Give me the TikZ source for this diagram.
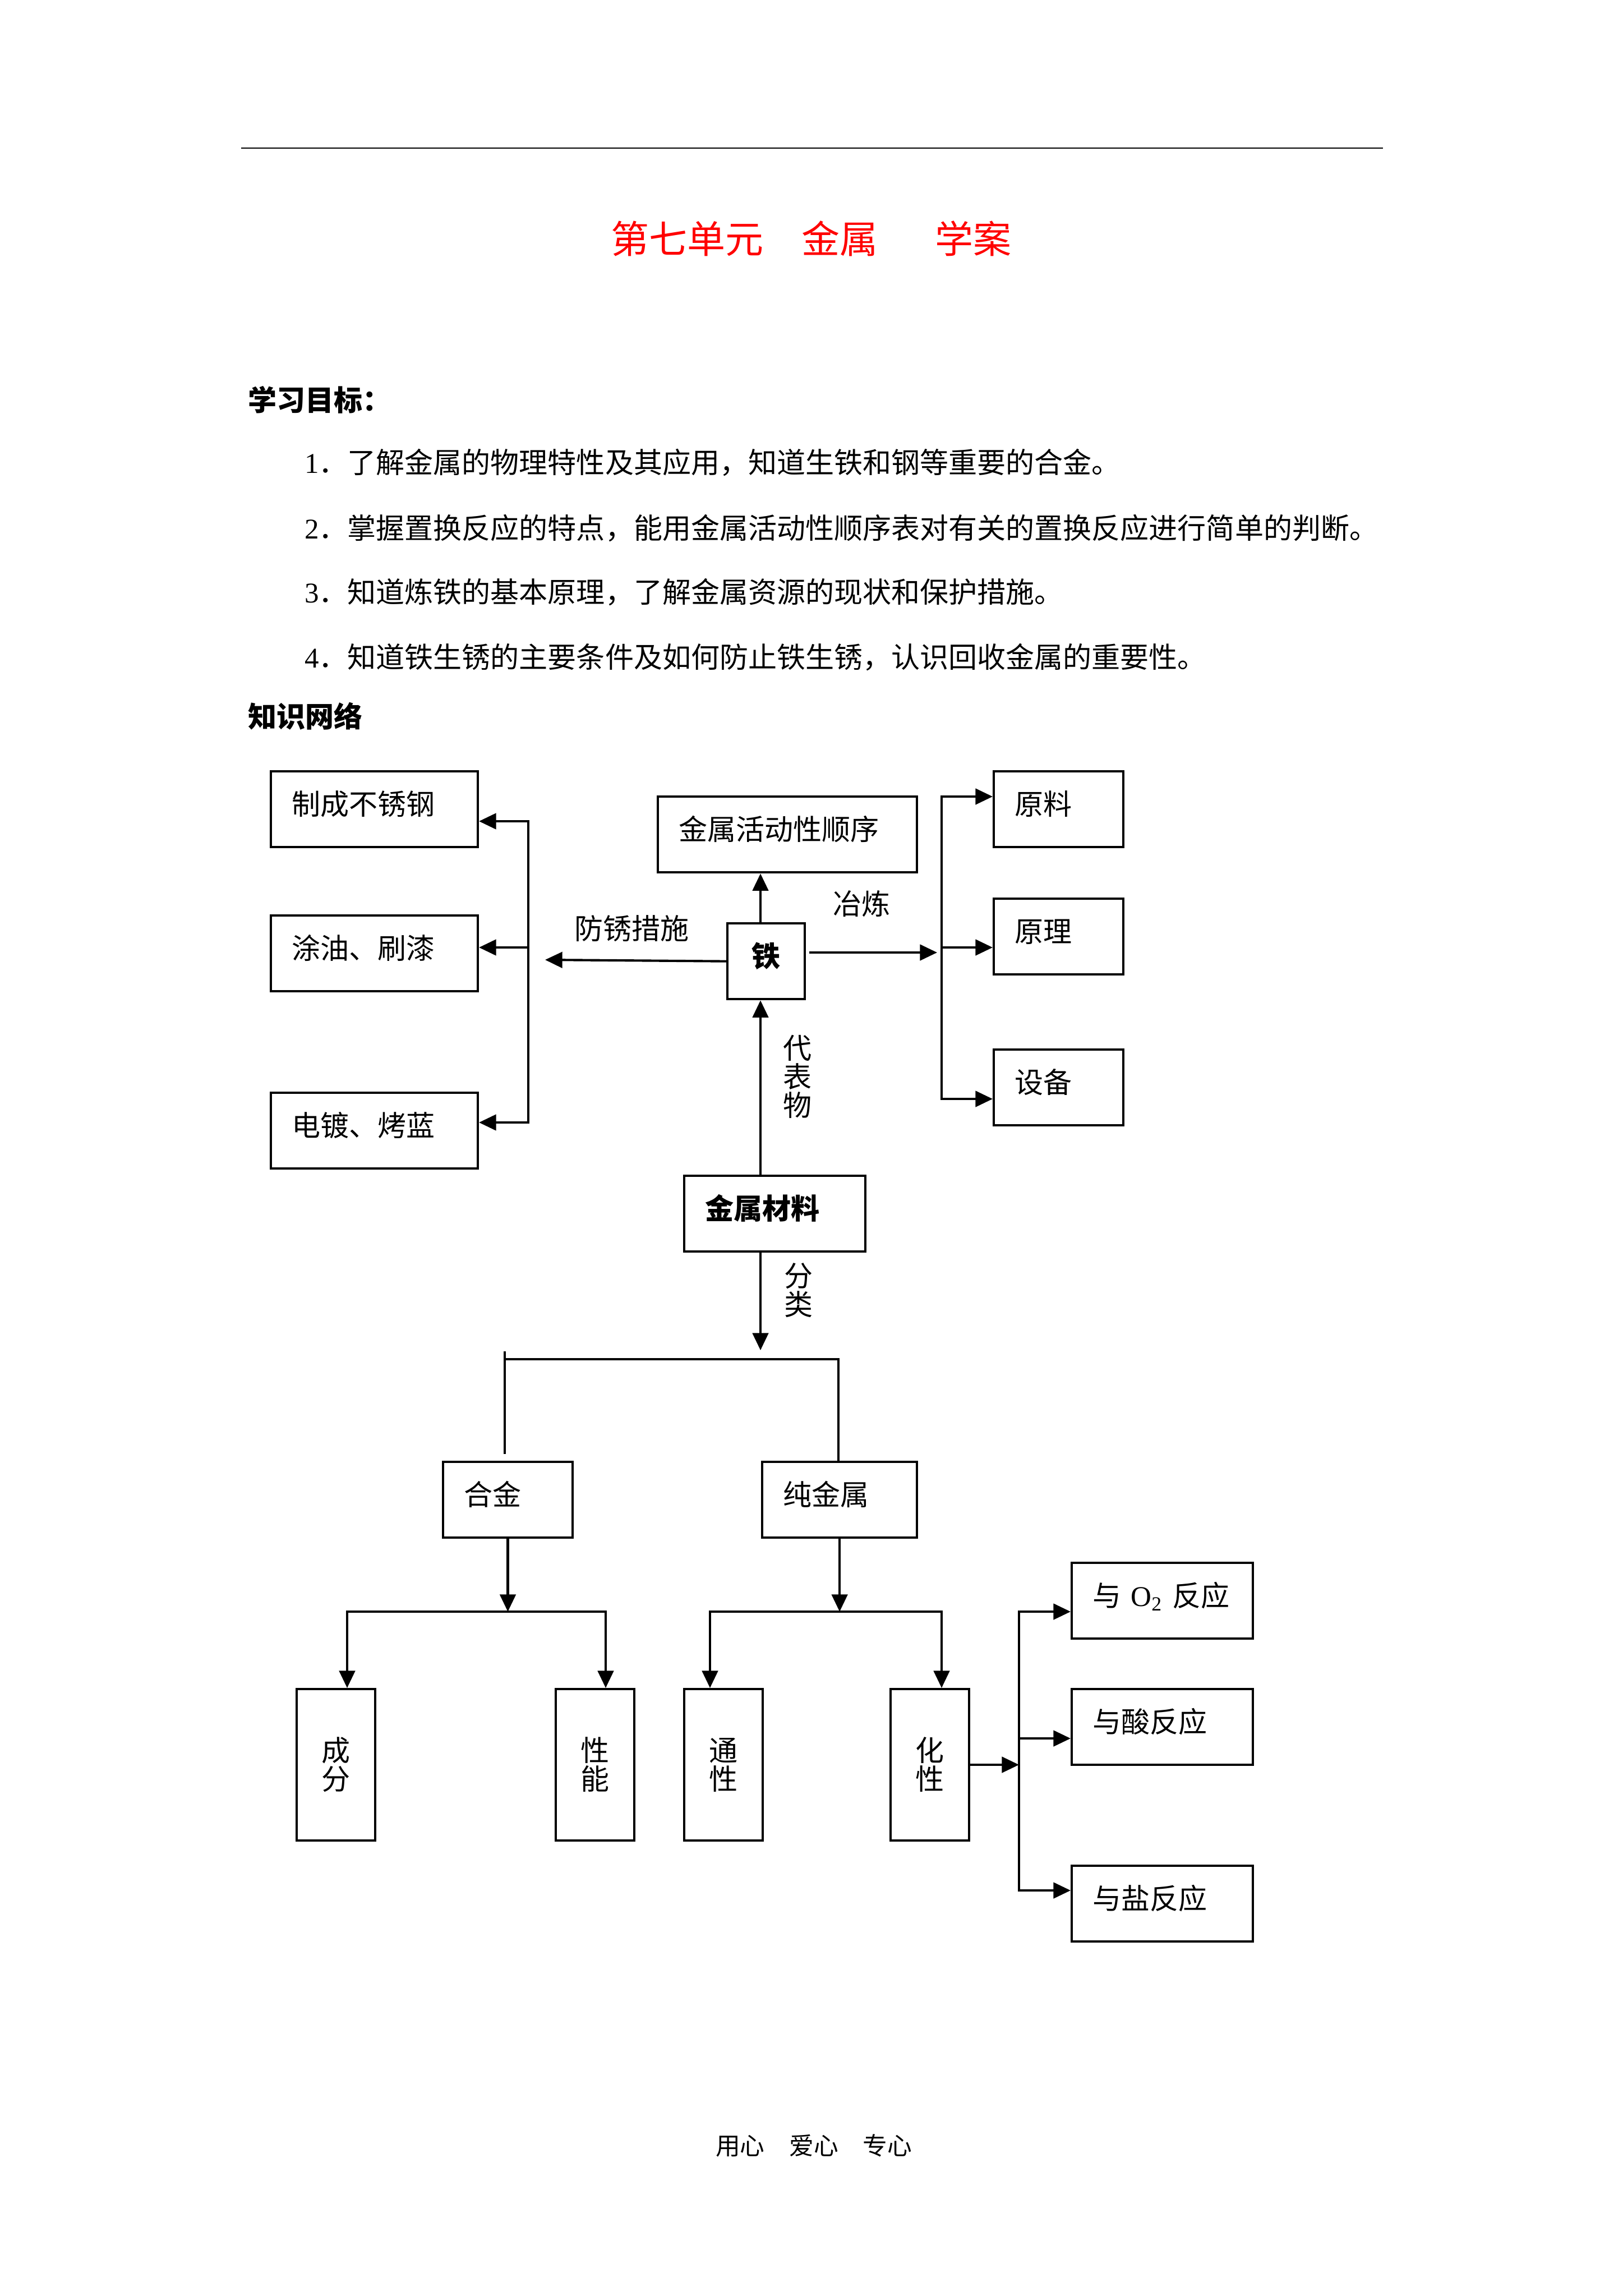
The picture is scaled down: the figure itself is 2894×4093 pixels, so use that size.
\documentclass[tikz,border=0pt]{standalone}
\usepackage{fontspec}
\setmainfont{Noto Sans CJK SC}
\newfontfamily\lat{Liberation Serif}
\usetikzlibrary{arrows.meta}
\newcommand\wuhao{\fontsize{10.5pt}{12.6pt}\selectfont}
\tikzset{
  box/.style={draw, line width=0.85pt, anchor=north west, inner xsep=7.7pt, inner ysep=0pt,
    align=left, text height=9pt, text depth=5pt, minimum height=27.8pt},
  tallbox/.style={draw, line width=0.85pt, anchor=north west, inner sep=0pt, align=center,
    minimum width=28.8pt, minimum height=55.5pt, font=\fontsize{10.5pt}{10.5pt}\selectfont},
  lbl/.style={anchor=west, inner sep=0pt},
  arr/.style={-{Triangle[length=6.3pt,width=5.8pt]}},
}
\begin{document}
\begin{tikzpicture}[x=0.2057pt, y=-0.2057pt, font=\wuhao, line width=0.85pt, line cap=rect]
  \useasboundingbox (0,0) rectangle (2894,4093);
  \draw[line width=0.6pt] (431,264) -- (2465,264);
  \node[lbl, font=\fontsize{14pt}{16pt}\selectfont, text=red] (biaoti) at (1087,425)
    {第七单元\hspace{1em}金属\hspace{1.5em}学案};
  \node[lbl, font=\wuhao\bfseries] (mubiao) at (440,713) {学习目标：};
  \node[lbl] (m1) at (541,825) {{\lat 1}．了解金属的物理特性及其应用，知道生铁和钢等重要的合金。};
  \node[lbl] (m2) at (541,942) {{\lat 2}．掌握置换反应的特点，能用金属活动性顺序表对有关的置换反应进行简单的判断。};
  \node[lbl] (m3) at (541,1056) {{\lat 3}．知道炼铁的基本原理，了解金属资源的现状和保护措施。};
  \node[lbl] (m4) at (541,1172) {{\lat 4}．知道铁生锈的主要条件及如何防止铁生锈，认识回收金属的重要性。};
  \node[lbl, font=\wuhao\bfseries] (wangluo) at (440,1277) {知识网络};

  % boxes
  \node[box, text width=60.5pt] (zhicheng) at (481,1373) {制成不锈钢};
  \node[box, text width=60.5pt] (tuyou) at (481,1630) {涂油、刷漆};
  \node[box, text width=60.5pt] (diandu) at (481,1946) {电镀、烤蓝};
  \node[box, text width=79.6pt] (shunxu) at (1171,1418) {金属活动性顺序};
  \node[box, text width=28.4pt, inner xsep=0pt, align=center, font=\wuhao\bfseries] (tie) at (1295,1644) {铁};
  \node[box, text width=32.1pt] (yuanliao) at (1770,1373) {原料};
  \node[box, text width=32.1pt] (yuanli) at (1770,1600) {原理};
  \node[box, text width=32.1pt] (shebei) at (1770,1869) {设备};
  \node[box, text width=51pt, font=\wuhao\bfseries] (cailiao) at (1218,2094) {金属材料};
  \node[box, text width=32.1pt] (hejin) at (788,2604) {合金};
  \node[box, text width=41.4pt] (chun) at (1357,2604) {纯金属};
  \node[tallbox] (chengfen) at (527,3009) {成\\分};
  \node[tallbox] (xingneng) at (989,3009) {性\\能};
  \node[tallbox] (tongxing) at (1218,3009) {通\\性};
  \node[tallbox] (huaxing) at (1586,3009) {化\\性};
  \node[box, text width=51pt] (yuO) at (1909,2784) {与~{\lat O\textsubscript{2}}~反应};
  \node[box, text width=51pt] (yusuan) at (1909,3009) {与酸反应};
  \node[box, text width=51pt] (yuyan) at (1909,3324) {与盐反应};

  % labels
  \node[lbl] (fangxiu) at (1022,1655) {防锈措施};
  \node[lbl] (yelian) at (1483,1611) {冶炼};
  \node[lbl, align=center, font=\fontsize{10.5pt}{10.5pt}\selectfont] (daibiao) at (1394,1919) {代\\表\\物};
  \node[lbl, align=center, font=\fontsize{10.5pt}{10.5pt}\selectfont] (fenlei) at (1396,2300) {分\\类};

  % coordinates
  \coordinate (lvT) at (942,1464);
  \coordinate (lvM) at (942,1689);
  \coordinate (lvB) at (942,2001);
  \coordinate (fxtip) at (972,1711);
  \coordinate (rvT) at (1679,1420);
  \coordinate (rvM) at (1679,1689);
  \coordinate (rvB) at (1679,1959);
  \coordinate (yltip) at (1671,1698);
  \coordinate (fltip) at (1356,2407);
  \coordinate (spL) at (900,2423);
  \coordinate (spR) at (1495,2423);
  \coordinate (hjL) at (619,2873);
  \coordinate (hjR) at (1080,2873);
  \coordinate (cjL) at (1266,2873);
  \coordinate (cjR) at (1679,2873);
  \coordinate (fyT) at (1817,2873);
  \coordinate (fyM) at (1817,3099);
  \coordinate (fyB) at (1817,3370);

  % iron
  \draw[arr] (fltip |- tie.north) -- (fltip |- shunxu.south);
  \draw[arr] (fltip |- cailiao.north) -- (fltip |- tie.south);
  \draw[arr] (tie.west) -- (fxtip);
  \draw (lvT) -- (lvB);
  \draw[arr] (lvT) -- (lvT -| zhicheng.east);
  \draw[arr] (lvM) -- (lvM -| tuyou.east);
  \draw[arr] (lvB) -- (lvB -| diandu.east);
  \draw[arr] ([xshift=1.6pt]tie.east |- yltip) -- (yltip);
  \draw (rvT) -- (rvB);
  \draw[arr] (rvT) -- (rvT -| yuanliao.west);
  \draw[arr] (rvM) -- (rvM -| yuanli.west);
  \draw[arr] (rvB) -- (rvB -| shebei.west);

  % classes
  \draw[arr] (fltip |- cailiao.south) -- (fltip);
  \draw (spL) -- (spR);
  \draw ([yshift=2.5pt]spL) -- ([yshift=3pt]hejin.north -| spL);
  \draw (spR) -- (spR |- chun.north);
  \draw[arr] (hejin.south) -- (hejin.south |- hjL);
  \draw (hjL) -- (hjR);
  \draw[arr] (hjL) -- (hjL |- chengfen.north);
  \draw[arr] (hjR) -- (hjR |- xingneng.north);
  \draw[arr] (chun.south) -- (chun.south |- cjL);
  \draw (cjL) -- (cjR);
  \draw[arr] (cjL) -- (cjL |- tongxing.north);
  \draw[arr] (cjR) -- (cjR |- huaxing.north);
  \draw[arr] (huaxing.east) -- (huaxing.east -| fyT);
  \draw (fyT) -- (fyB);
  \draw[arr] (fyT) -- (fyT -| yuO.west);
  \draw[arr] (fyM) -- (fyM -| yusuan.west);
  \draw[arr] (fyB) -- (fyB -| yuyan.west);

  \node[lbl, font=\fontsize{9pt}{11pt}\selectfont] (yejiao) at (1274,3825) {用心　爱心　专心};
\end{tikzpicture}
\end{document}
